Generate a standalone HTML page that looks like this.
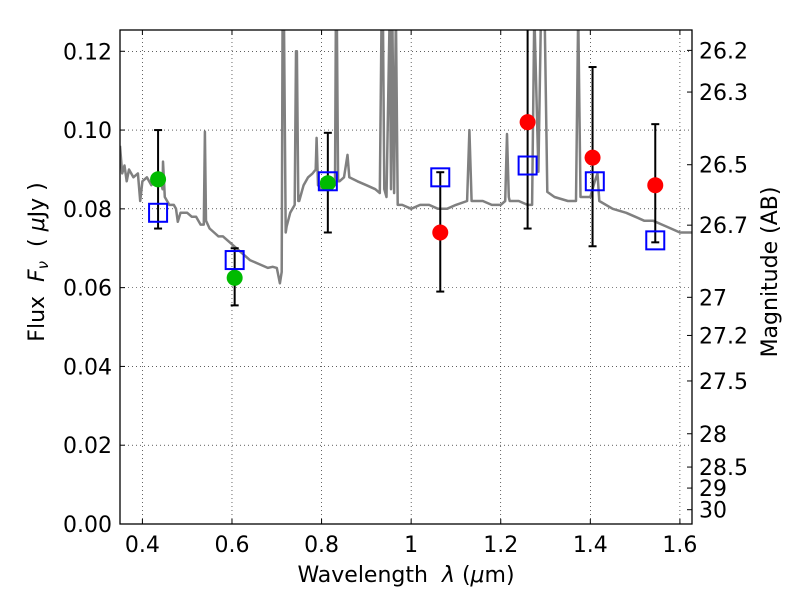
<!DOCTYPE html>
<html><head><meta charset="utf-8"><style>
html,body{margin:0;padding:0;background:#fff;width:800px;height:600px;overflow:hidden}
svg text{font-family:"DejaVu Sans","Liberation Sans",sans-serif;font-size:22px;fill:#000}
</style></head><body>
<svg id="chart" width="800" height="600" viewBox="0 0 800 600" xmlns="http://www.w3.org/2000/svg">
<g id="grid"></g>
<g id="spec"></g>
<g id="marks"></g>
<rect x="120" y="30" width="572" height="494" fill="none" stroke="#000" stroke-width="1.3"/>
<g id="axes"></g>
<text x="406" y="582" text-anchor="middle" xml:space="preserve">Wavelength  <tspan font-style="italic">λ</tspan> (<tspan font-style="italic">μ</tspan>m)</text>
<text transform="translate(44,262) rotate(-90)" text-anchor="middle" xml:space="preserve">Flux  <tspan font-style="italic">F</tspan><tspan font-style="italic" font-size="15" dy="4">ν</tspan><tspan dy="-4">  ( </tspan><tspan font-style="italic">μ</tspan>Jy )</text>
<text transform="translate(777,272) rotate(-90)" text-anchor="middle">Magnitude (AB)</text>
</svg>
<script>
const xTicks=[0.4,0.6,0.8,1.0,1.2,1.4,1.6];
const xTickLabels=["0.4","0.6","0.8","1","1.2","1.4","1.6"];
const yTicks=[0,0.02,0.04,0.06,0.08,0.10,0.12];
const yTickLabels=["0.00","0.02","0.04","0.06","0.08","0.10","0.12"];
const magTicks=[26.2,26.3,26.5,26.7,27,27.2,27.5,28,28.5,29,30];
const specX=[0.35,0.355,0.36,0.365,0.37,0.38,0.39,0.395,0.40,0.41,0.42,0.43,0.44,0.445,0.446,0.45,0.46,0.47,0.475,0.479,0.485,0.50,0.51,0.52,0.53,0.537,0.5395,0.542,0.55,0.56,0.57,0.58,0.60,0.62,0.64,0.66,0.68,0.691,0.70,0.707,0.711,0.713,0.716,0.72,0.722,0.73,0.74,0.743,0.745,0.748,0.75,0.76,0.77,0.78,0.787,0.789,0.792,0.80,0.81,0.82,0.83,0.832,0.834,0.837,0.84,0.85,0.858,0.862,0.88,0.90,0.92,0.93,0.934,0.937,0.94,0.945,0.952,0.955,0.958,0.962,0.966,0.97,0.98,1.0,1.02,1.04,1.06,1.08,1.10,1.125,1.13,1.135,1.16,1.18,1.20,1.21,1.214,1.218,1.22,1.24,1.26,1.27,1.275,1.284,1.29,1.298,1.304,1.32,1.35,1.368,1.373,1.378,1.38,1.40,1.41,1.416,1.42,1.45,1.48,1.50,1.52,1.54,1.56,1.58,1.60,1.627];
const specY=[0.096,0.089,0.091,0.087,0.090,0.088,0.089,0.082,0.087,0.088,0.086,0.088,0.087,0.085,0.092,0.083,0.081,0.081,0.080,0.0767,0.079,0.079,0.078,0.078,0.076,0.076,0.0996,0.077,0.075,0.074,0.073,0.073,0.071,0.069,0.067,0.066,0.065,0.0653,0.065,0.0611,0.064,0.13,0.13,0.074,0.0755,0.079,0.081,0.12,0.12,0.082,0.082,0.086,0.088,0.089,0.090,0.098,0.086,0.085,0.087,0.087,0.086,0.13,0.13,0.087,0.087,0.088,0.0937,0.088,0.087,0.086,0.085,0.084,0.13,0.13,0.085,0.083,0.13,0.085,0.13,0.084,0.13,0.081,0.081,0.080,0.081,0.081,0.080,0.080,0.081,0.082,0.100,0.082,0.082,0.081,0.081,0.082,0.099,0.083,0.082,0.082,0.081,0.081,0.13,0.0894,0.13,0.13,0.0843,0.083,0.082,0.082,0.13,0.083,0.083,0.083,0.087,0.089,0.082,0.080,0.079,0.078,0.077,0.077,0.076,0.075,0.074,0.074];
const greenX=[0.435,0.606,0.814];
const greenY=[0.0875,0.0625,0.0865];
const errX=[0.435,0.606,0.814,1.065,1.26,1.405,1.545];
const errLo=[0.075,0.0555,0.074,0.059,0.075,0.0705,0.0715];
const errHi=[0.100,0.070,0.0993,0.0893,0.14,0.116,0.1015];
const redX=[1.065,1.26,1.405,1.545];
const redY=[0.074,0.102,0.093,0.086];
const blueX=[0.435,0.606,0.814,1.065,1.26,1.41,1.545];
const blueY=[0.079,0.067,0.087,0.088,0.091,0.087,0.072];

const NS="http://www.w3.org/2000/svg";
const X0=120,X1=692,Y0=524,Y1=30,XMIN=0.35,XMAX=1.627,YMAX=0.1254;
const sx=v=>X0+(v-XMIN)/(XMAX-XMIN)*(X1-X0);
const sy=v=>Y0-v/YMAX*(Y0-Y1);
const magToFlux=m=>Math.pow(10,-0.4*(m-23.9));
function mk(tag,attrs,parent){const e=document.createElementNS(NS,tag);for(const k in attrs)e.setAttribute(k,attrs[k]);parent.appendChild(e);return e;}
const grid=document.getElementById('grid'),axes=document.getElementById('axes'),spec=document.getElementById('spec'),marks=document.getElementById('marks');
xTicks.forEach((t,i)=>{
  const g=mk('line',{x1:sx(t),x2:sx(t),y1:Y1,y2:Y0,stroke:'#000','stroke-width':0.6,'stroke-dasharray':'1,3'},grid);
  
  
  mk('line',{x1:sx(t),x2:sx(t),y1:Y0,y2:Y0-5,stroke:'#000'},axes);
  mk('line',{x1:sx(t),x2:sx(t),y1:Y1,y2:Y1+5,stroke:'#000'},axes);
  const tx=mk('text',{x:sx(t),y:Y0+28,'text-anchor':'middle'},axes);tx.textContent=xTickLabels[i];
  
  
});
yTicks.forEach((t,i)=>{
  const g=mk('line',{x1:X0,x2:X1,y1:sy(t),y2:sy(t),stroke:'#000','stroke-width':0.6,'stroke-dasharray':'1,3'},grid);
  
  
  mk('line',{x1:X0,x2:X0+5,y1:sy(t),y2:sy(t),stroke:'#000'},axes);
  const tx=mk('text',{x:X0-8,y:sy(t)+8,'text-anchor':'end'},axes);tx.textContent=yTickLabels[i];
  
  
});
magTicks.forEach(m=>{
  const y=sy(magToFlux(m));
  mk('line',{x1:X1,x2:X1-5,y1:y,y2:y,stroke:'#000'},axes);
  const tx=mk('text',{x:X1+7,y:y+8},axes);tx.textContent=String(m);
  
  
});
const cp=mk('clipPath',{id:'clip'},spec);mk('rect',{x:X0,y:Y1,width:X1-X0,height:Y0-Y1},cp);
const pts=specX.map((x,i)=>sx(x).toFixed(1)+','+sy(specY[i]).toFixed(1)).join(' ');
const pl=mk('polyline',{points:pts,fill:'none',stroke:'#808080','stroke-width':2.5,'clip-path':'url(#clip)','stroke-linejoin':'round'},spec);


errX.forEach((x,i)=>{
  const g=mk('g',{'clip-path':'url(#clip)'},marks);
  
  
  const X=sx(x);
  mk('line',{x1:X,x2:X,y1:sy(errLo[i]),y2:sy(errHi[i]),stroke:'#000','stroke-width':2},g);
  mk('line',{x1:X-4,x2:X+4,y1:sy(errLo[i]),y2:sy(errLo[i]),stroke:'#000','stroke-width':2},g);
  mk('line',{x1:X-4,x2:X+4,y1:sy(errHi[i]),y2:sy(errHi[i]),stroke:'#000','stroke-width':2},g);
});
greenX.forEach((x,i)=>{
  const c=mk('circle',{cx:sx(x),cy:sy(greenY[i]),r:8,fill:'#00bb00'},marks);
  
  
});
redX.forEach((x,i)=>{
  const c=mk('circle',{cx:sx(x),cy:sy(redY[i]),r:8,fill:'#ff0000'},marks);
  
  
});
blueX.forEach((x,i)=>{
  const r=mk('rect',{x:sx(x)-9,y:sy(blueY[i])-9,width:18,height:18,fill:'none',stroke:'#0000ff','stroke-width':2},marks);
  
  
});
</script>
</body></html>
